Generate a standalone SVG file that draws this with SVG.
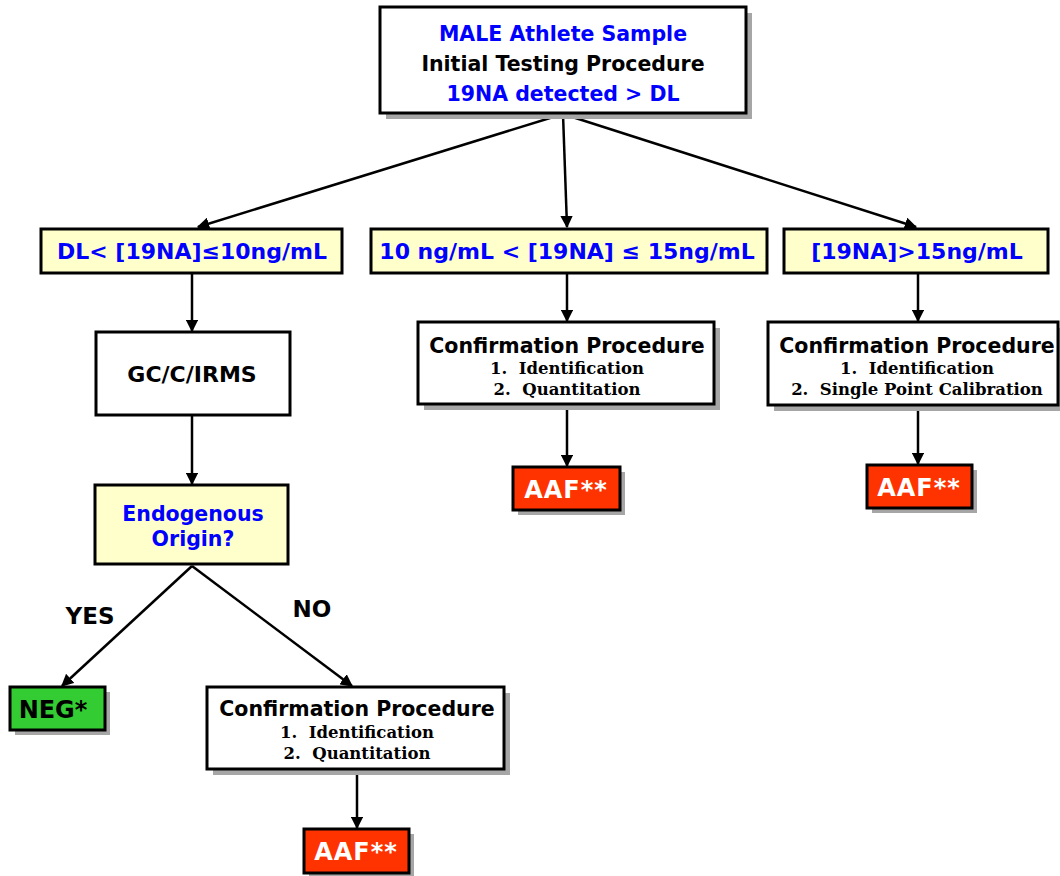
<svg xmlns="http://www.w3.org/2000/svg" width="1060" height="876" viewBox="0 0 1060 876">
<defs>
<marker id="ah" viewBox="0 0 10 10" refX="9" refY="5" markerWidth="5" markerHeight="5" orient="auto" markerUnits="strokeWidth">
<path d="M0,0 L10,5 L0,10 z" fill="#000"/>
</marker>
<style>
.box{stroke:#000;stroke-width:3}
.sh{fill:#a6a6a6}
.w{fill:#fff}
.y{fill:#ffffcc}
.r{fill:#ff3300}
.g{fill:#33cc33}
text{font-family:"DejaVu Sans","Verdana",sans-serif;font-weight:bold;text-anchor:middle}
.t{font-size:20.5px}
.q{font-size:22px}
.b{fill:#0000ff}
.k{fill:#000}
.s{font-family:"DejaVu Serif","Liberation Serif",serif;font-size:16.5px;white-space:pre}
.wt{fill:#fff;font-size:24px;letter-spacing:1px}
.c{stroke:#000;stroke-width:2.5;fill:none;marker-end:url(#ah)}
</style>
</defs>
<rect width="1060" height="876" fill="#fff"/>
<g id="connectors">
<line class="c" x1="563" y1="114" x2="198" y2="227"/>
<line class="c" x1="563" y1="114" x2="567" y2="227"/>
<line class="c" x1="563" y1="114" x2="916" y2="227"/>
<line class="c" x1="192" y1="274" x2="192" y2="331"/>
<line class="c" x1="192" y1="416" x2="192" y2="484"/>
<line class="c" x1="192" y1="566" x2="62" y2="686"/>
<line class="c" x1="192" y1="566" x2="352" y2="686"/>
<line class="c" x1="567" y1="274" x2="567" y2="321"/>
<line class="c" x1="567" y1="405" x2="567" y2="466"/>
<line class="c" x1="918" y1="274" x2="918" y2="321"/>
<line class="c" x1="918" y1="406" x2="918" y2="464"/>
<line class="c" x1="357" y1="770" x2="357" y2="828"/>
</g>
<g id="n_top">
<rect class="sh" x="386" y="13" width="366" height="106"/>
<rect class="box w" x="380" y="7" width="366" height="106"/>
<text class="t b" x="563" y="41">MALE Athlete Sample</text>
<text class="t k" x="563" y="71">Initial Testing Procedure</text>
<text class="t b" x="563" y="101">19NA detected &gt; DL</text>
</g>
<g id="n_low">
<rect class="box y" x="41" y="229" width="301" height="44"/>
<text class="q b" x="192" y="259">DL&lt; [19NA]≤10ng/mL</text>
</g>
<g id="n_mid">
<rect class="box y" x="371" y="229" width="396" height="44"/>
<text class="q b" x="567" y="259">10 ng/mL &lt; [19NA] ≤ 15ng/mL</text>
</g>
<g id="n_high">
<rect class="box y" x="784" y="229" width="264" height="44"/>
<text class="q b" x="917" y="259">[19NA]&gt;15ng/mL</text>
</g>
<g id="n_gc">
<rect class="box w" x="96" y="332" width="194" height="83"/>
<text class="q k" x="192" y="382">GC/C/IRMS</text>
</g>
<g id="n_endo">
<rect class="box y" x="95" y="485" width="193" height="79"/>
<text class="t b" x="193" y="521">Endogenous</text>
<text class="t b" x="193" y="546">Origin?</text>
</g>
<g id="n_neg">
<rect class="sh" x="15" y="692" width="95" height="43"/>
<rect class="box g" x="10" y="687" width="95" height="43"/>
<text class="k" x="53" y="718" font-size="24">NEG*</text>
</g>
<g id="n_conf_mid">
<rect class="sh" x="424" y="328" width="296" height="82"/>
<rect class="box w" x="418" y="322" width="296" height="82"/>
<text class="t k" x="567" y="353">Confirmation Procedure</text>
<text class="s k" x="567" y="374">1.  Identification</text>
<text class="s k" x="567" y="395">2.  Quantitation</text>
</g>
<g id="n_conf_high">
<rect class="sh" x="774" y="328" width="290" height="83"/>
<rect class="box w" x="768" y="322" width="290" height="83"/>
<text class="t k" x="917" y="353">Confirmation Procedure</text>
<text class="s k" x="917" y="374">1.  Identification</text>
<text class="s k" x="917" y="395">2.  Single Point Calibration</text>
</g>
<g id="n_conf_low">
<rect class="sh" x="213" y="693" width="297" height="82"/>
<rect class="box w" x="207" y="687" width="297" height="82"/>
<text class="t k" x="357" y="716">Confirmation Procedure</text>
<text class="s k" x="357" y="738">1.  Identification</text>
<text class="s k" x="357" y="759">2.  Quantitation</text>
</g>
<g id="n_aaf_mid">
<rect class="sh" x="518" y="472" width="107" height="43"/>
<rect class="box r" x="513" y="467" width="107" height="43"/>
<text class="wt" x="566" y="498">AAF**</text>
</g>
<g id="n_aaf_high">
<rect class="sh" x="872" y="470" width="105" height="43"/>
<rect class="box r" x="867" y="465" width="105" height="43"/>
<text class="wt" x="919" y="496">AAF**</text>
</g>
<g id="n_aaf_low">
<rect class="sh" x="309" y="834" width="105" height="42"/>
<rect class="box r" x="304" y="829" width="105" height="44"/>
<text class="wt" x="356" y="860">AAF**</text>
</g>
<text class="k" x="90" y="624" font-size="23">YES</text>
<text class="k" x="312" y="617" font-size="23">NO</text>
</svg>
